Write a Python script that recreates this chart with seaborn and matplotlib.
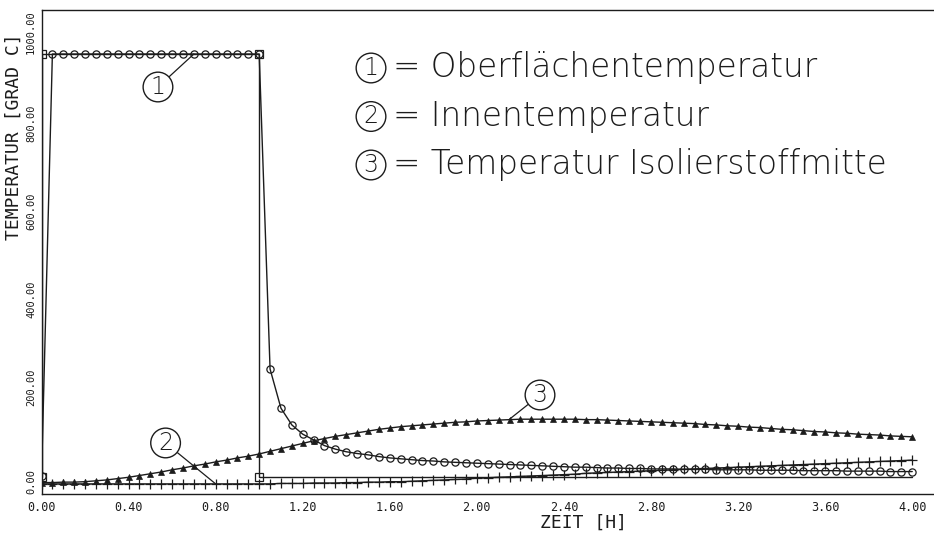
import numpy as np
import pandas as pd
import matplotlib
matplotlib.use("Agg")
import matplotlib.pyplot as plt
import seaborn as sns

# sampling times of the simulation output [h]
zeit = np.round(np.arange(0, 4.0001, 0.05), 2)

# (1) surface temperature [deg C]
oberflaeche = (
    [40] + [1000] * 20 +
    [284, 195, 157, 136, 123, 110, 102, 96, 92, 89,
     85, 82, 80, 78, 76, 75, 73, 72, 71, 70,
     69, 68, 67, 66, 65, 64, 63, 62, 61, 61,
     60, 59, 59, 58, 58, 57, 57, 57, 56, 56,
     56, 55, 55, 55, 55, 54, 54, 54, 54, 53,
     53, 53, 53, 52, 52, 52, 52, 51, 51, 51]
)

# (2) inner temperature [deg C]
innen = (
    [23] * 21 +
    [23, 24, 24, 24, 25, 25, 25, 26, 26, 27,
     27, 28, 28, 29, 30, 31, 32, 33, 34, 36,
     37, 38, 39, 40, 41, 42, 43, 44, 45, 47,
     48, 49, 50, 51, 52, 53, 54, 55, 56, 57,
     58, 59, 60, 61, 62, 63, 64, 65, 66, 67,
     68, 69, 70, 71, 72, 73, 74, 75, 76, 77]
)

# (3) temperature at mid-insulation [deg C]
isolier = [
    26, 26, 27, 27, 28, 30, 32, 35, 38, 42,
    46, 50, 55, 59, 64, 68, 73, 77, 82, 86, 91,
    97, 103, 109, 115, 121, 126, 131, 135, 139, 143,
    147, 150, 153, 155, 157, 159, 161, 163, 164, 166,
    167, 168, 169, 170, 170, 170, 170, 170, 170, 169,
    169, 168, 167, 166, 165, 164, 163, 162, 161, 160,
    158, 157, 155, 154, 152, 151, 149, 147, 146, 144,
    142, 141, 139, 138, 136, 135, 134, 132, 131, 130,
]

# fire exposure: 1000 deg C for one hour, then ambient
brand_zeit = [0.0, 0.0, 1.0, 1.0, 4.0]
brand_temp = [38, 1000, 1000, 38, 38]

x_ticks = [0.0, 0.4, 0.8, 1.2, 1.6, 2.0, 2.4, 2.8, 3.2, 3.6, 4.0]
y_ticks = [0, 200, 400, 600, 800, 1000]

legend_rows = [
    ("1", "= Oberflächentemperatur"),
    ("2", "= Innentemperatur"),
    ("3", "= Temperatur Isolierstoffmitte"),
]

df = pd.DataFrame({"zeit": zeit, "ober": oberflaeche,
                   "innen": innen, "iso": isolier})
df_brand = pd.DataFrame({"zeit": brand_zeit, "temp": brand_temp})

sns.set_theme(style="white")
plt.rcParams["font.family"] = ["DejaVu Sans Mono", "DejaVu Sans"]

ink = "#1c1c1c"
fig = plt.figure(figsize=(9.34, 5.36), dpi=100)
ax = fig.add_axes([41.5 / 934, 42 / 536, 892.5 / 934, 484 / 536])

common = dict(ax=ax, color=ink, linewidth=1.0, estimator=None, sort=False)

sns.lineplot(data=df_brand, x="zeit", y="temp", marker="s", markersize=6,
             markerfacecolor="none", markeredgecolor=ink, markeredgewidth=0.9,
             markevery=[0, 1, 2, 3], **common)
sns.lineplot(data=df, x="zeit", y="innen", marker="+", markersize=7,
             markeredgecolor=ink, markeredgewidth=0.9, **common)
sns.lineplot(data=df, x="zeit", y="iso", marker="^", markersize=4.5,
             markerfacecolor=ink, markeredgecolor=ink, markeredgewidth=0.5,
             **common)
sns.lineplot(data=df, x="zeit", y="ober", marker="o", markersize=5.2,
             markerfacecolor="none", markeredgecolor=ink, markeredgewidth=0.9,
             **common)

ax.set_xlim(0, 4.1)
ax.set_ylim(0, 1100)

ax.set_xticks(x_ticks)
ax.set_xticklabels([f"{v:.2f}" for v in x_ticks], fontsize=8.5)
ax.set_yticks(y_ticks)
ax.set_yticklabels([f"{v:.2f}" for v in y_ticks], fontsize=7.5,
                   rotation=90, va="bottom")
ax.tick_params(axis="both", direction="out", length=3, width=0.8,
               colors=ink, pad=2)
ax.tick_params(axis="y", pad=1)

ax.set_xlabel("ZEIT [H]", fontsize=13, color=ink)
ax.xaxis.set_label_coords((583 - 41.5) / 892.5, -0.04)
ax.set_ylabel("TEMPERATUR [GRAD C]", fontsize=13, color=ink)
ax.yaxis.set_label_coords((23 - 41.5) / 892.5, (494 - 137) / 484)

for side in ("left", "bottom", "top"):
    ax.spines[side].set_color(ink)
    ax.spines[side].set_linewidth(1.0)
ax.spines["right"].set_visible(False)

# circled series numbers with leader lines
circle_box = dict(boxstyle="circle,pad=0.12", fc="white", ec=ink, lw=1.0)
leader = dict(arrowstyle="-", color=ink, lw=0.9, shrinkA=0, shrinkB=0)
for num, tip, pos in [("1", (0.70, 1000), (0.535, 925)),
                      ("2", (0.80, 23), (0.57, 116)),
                      ("3", (2.15, 170), (2.29, 225))]:
    ax.annotate(num, xy=tip, xytext=pos, ha="center", va="center",
                fontsize=17, family="DejaVu Sans", fontweight="light",
                color=ink, bbox=circle_box, arrowprops=leader)

# key in the upper right
for i, (num, txt) in enumerate(legend_rows):
    y = (494 - (68 + 48.5 * i)) / 484
    ax.text((371 - 41.5) / 892.5, y, num, transform=ax.transAxes,
            ha="center", va="center", fontsize=17, family="DejaVu Sans",
            fontweight="light", color=ink, bbox=circle_box)
    ax.text((393 - 41.5) / 892.5, y, txt, transform=ax.transAxes,
            ha="left", va="center", fontsize=23.5, family="DejaVu Sans",
            fontweight="light", color=ink)

fig.savefig("out.png", dpi=100, facecolor="white")
